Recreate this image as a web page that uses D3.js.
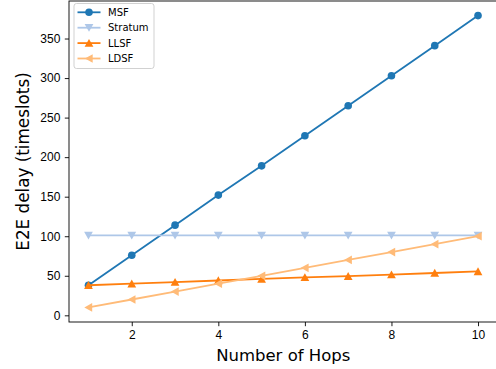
<!DOCTYPE html>
<html>
<head>
<meta charset="utf-8">
<script src="https://cdn.jsdelivr.net/npm/d3@7"></script>
<style>
  body { margin: 0; background: #fff; }
  svg { display: block; font-family: "DejaVu Sans", sans-serif; }
</style>
</head>
<body>
<svg width="496" height="369"></svg>
<script>
// data
const hops = [1, 2, 3, 4, 5, 6, 7, 8, 9, 10];
const msf = [38, 76, 114, 152, 189, 227, 265, 303, 341, 379];
const stratum = [101, 101, 101, 101, 101, 101, 101, 101, 101, 101];
const llsf = [38, 40, 42, 44, 46, 48, 49.5, 51.5, 53.5, 55.5];
const ldsf = [10, 20, 30, 40, 50, 60, 70, 80, 90, 100];
const xTicks = [2, 4, 6, 8, 10];
const yTicks = [0, 50, 100, 150, 200, 250, 300, 350];

const series = [
  { name: "MSF", values: msf, color: "#1f77b4", symbol: "circle" },
  { name: "Stratum", values: stratum, color: "#aec7e8", symbol: "down" },
  { name: "LLSF", values: llsf, color: "#ff7f0e", symbol: "up" },
  { name: "LDSF", values: ldsf, color: "#ffbb78", symbol: "left" },
];

const plot = { left: 69, right: 497.5, top: 1, bottom: 322 };

// matplotlib style 5% margins
function padded(vals) {
  const lo = d3.min(vals), hi = d3.max(vals), p = (hi - lo) * 0.05;
  return [lo - p, hi + p];
}
const allY = series.flatMap(s => s.values);

const x = d3.scaleLinear().domain(padded(hops)).range([plot.left, plot.right]);
const y = d3.scaleLinear().domain(padded(allY)).range([plot.bottom, plot.top]);

const svg = d3.select("svg");

// marker paths centered at 0,0
const r = 3.8;
function markerPath(sym) {
  if (sym === "circle") return d3.symbol(d3.symbolCircle, Math.PI * r * r)();
  const t = r * 1.15;
  if (sym === "down") return `M${-t},${-t * 0.85}L${t},${-t * 0.85}L0,${t * 0.95}Z`;
  if (sym === "up") return `M${-t},${t * 0.85}L${t},${t * 0.85}L0,${-t * 0.95}Z`;
  return `M${t * 0.85},${-t}L${t * 0.85},${t}L${-t * 0.95},0Z`;
}

const line = d3.line().x(d => x(d[0])).y(d => y(d[1]));

const g = svg.append("g");
series.forEach(s => {
  const pts = hops.map((h, i) => [h, s.values[i]]);
  g.append("path")
    .attr("d", line(pts))
    .attr("fill", "none")
    .attr("stroke", s.color)
    .attr("stroke-width", 1.8);
  g.selectAll(null)
    .data(pts)
    .enter()
    .append("path")
    .attr("d", markerPath(s.symbol))
    .attr("transform", d => `translate(${x(d[0])},${y(d[1])})`)
    .attr("fill", s.color);
});

// axes
const xAxis = svg.append("g")
  .attr("transform", `translate(0,${plot.bottom})`)
  .call(d3.axisBottom(x).tickValues(xTicks).tickSize(4.2).tickPadding(4).tickFormat(d3.format("d")));
const yAxis = svg.append("g")
  .attr("transform", `translate(${plot.left},0)`)
  .call(d3.axisLeft(y).tickValues(yTicks).tickSize(4.2).tickPadding(4.5).tickFormat(d3.format("d")));

[xAxis, yAxis].forEach(a => {
  a.select(".domain").remove();
  a.selectAll("line").attr("stroke", "#000").attr("stroke-width", 0.9);
  a.selectAll("text").attr("fill", "#000").style("font-size", "12px");
});

// spines
svg.append("rect")
  .attr("x", plot.left).attr("y", plot.top)
  .attr("width", plot.right - plot.left).attr("height", plot.bottom - plot.top)
  .attr("fill", "none").attr("stroke", "#000").attr("stroke-width", 0.9);

svg.append("text")
  .attr("x", (plot.left + plot.right) / 2 - 0)
  .attr("y", 360.5)
  .attr("text-anchor", "middle")
  .style("font-size", "16.5px")
  .text("Number of Hops");

svg.append("text")
  .attr("transform", `translate(28.5,${(plot.top + plot.bottom) / 2}) rotate(-90)`)
  .attr("text-anchor", "middle")
  .style("font-size", "16.8px")
  .text("E2E delay (timeslots)");

// legend
const leg = svg.append("g").attr("transform", "translate(74,3.5)");
leg.append("rect")
  .attr("width", 80).attr("height", 65).attr("rx", 2.5)
  .attr("fill", "#fff").attr("fill-opacity", 0.8)
  .attr("stroke", "#ccc").attr("stroke-width", 0.9);
series.forEach((s, i) => {
  const row = leg.append("g").attr("transform", `translate(0,${8.8 + i * 15.4})`);
  row.append("line").attr("x1", 3.5).attr("x2", 26.5)
    .attr("stroke", s.color).attr("stroke-width", 1.8);
  row.append("path").attr("d", markerPath(s.symbol))
    .attr("transform", "translate(15,0)").attr("fill", s.color);
  row.append("text").attr("x", 34).attr("dy", "0.35em")
    .style("font-size", "10px").text(s.name);
});
</script>
</body>
</html>
